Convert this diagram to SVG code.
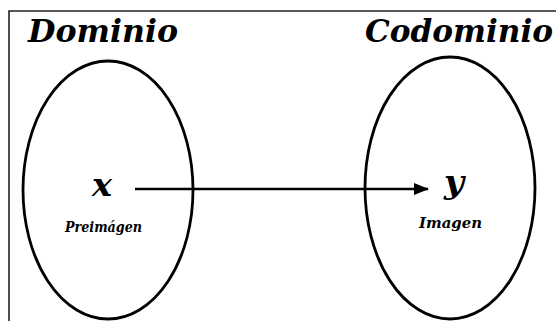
<svg xmlns="http://www.w3.org/2000/svg" width="556" height="321" viewBox="0 0 556 321">
  <defs>
    <marker id="arrowhead" markerWidth="16" markerHeight="12" refX="14" refY="6" orient="auto" markerUnits="userSpaceOnUse">
      <path d="M0,0 L15,6 L0,12 Z" fill="#000"/>
    </marker>
  </defs>
  <style>
    .frame { stroke: #222; stroke-width: 1.6; fill: none; }
    .set { fill: #fff; stroke: #000; stroke-width: 2.8; }
    .title { font-family: "DejaVu Serif", "Liberation Serif", serif; font-weight: bold; font-style: italic; font-size: 31px; fill: #000; }
    .var { font-family: "DejaVu Serif", "Liberation Serif", serif; font-weight: bold; font-style: italic; font-size: 31px; fill: #000; }
    .sub { font-family: "DejaVu Serif", "Liberation Serif", serif; font-weight: bold; font-style: italic; font-size: 14.5px; fill: #000; }
    .link { stroke: #000; stroke-width: 2.5; fill: none; }
  </style>
  <rect width="556" height="321" fill="#fff"/>
  <!-- page frame -->
  <path class="frame" d="M9,321 L9,11 L556,11"/>

  <g id="domain">
    <text class="title" x="28" y="42" textLength="150" lengthAdjust="spacingAndGlyphs">Dominio</text>
    <ellipse class="set" cx="108" cy="190" rx="85" ry="129"/>
  </g>

  <g id="codomain">
    <text class="title" x="365" y="42" textLength="188" lengthAdjust="spacingAndGlyphs">Codominio</text>
    <ellipse class="set" cx="450" cy="188" rx="85" ry="131"/>
  </g>

  <g id="preimage">
    <text class="var" x="92" y="196" textLength="20" lengthAdjust="spacingAndGlyphs">x</text>
    <text class="sub" x="65" y="232" textLength="77" lengthAdjust="spacingAndGlyphs">Preimágen</text>
  </g>

  <g id="image">
    <text class="var" x="444" y="193" textLength="20" lengthAdjust="spacingAndGlyphs">y</text>
    <text class="sub" x="419" y="228" textLength="63" lengthAdjust="spacingAndGlyphs">Imagen</text>
  </g>

  <g id="connectors">
    <line class="link" x1="135" y1="189" x2="428" y2="189" marker-end="url(#arrowhead)"/>
  </g>
</svg>
